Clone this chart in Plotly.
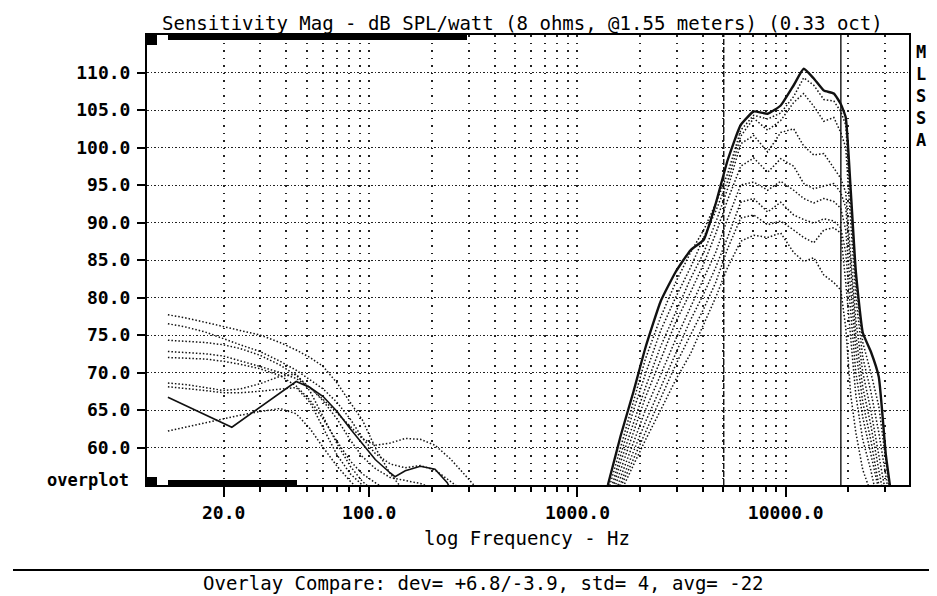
import plotly.graph_objects as go

# ---------------- data ----------------
low_freq = [10.8, 13.0, 16.3, 19.9, 24.0, 29.9, 37.3, 44.6, 52.0, 60.1, 70.1,
            81.1, 92.6, 106.9, 126.2, 149, 176, 207, 245, 289, 342]

low_solid_freq = [10.8, 21.9, 44.6, 52.0, 60.1, 70.1, 81.1, 92.6, 106.9, 126.2,
                  133, 149, 176, 207, 237, 250]
low_solid_db = [66.7, 62.7, 68.8, 68.0, 66.8, 64.8, 62.5, 60.5, 58.4, 56.6,
                56.1, 56.9, 57.5, 57.1, 55.3, 54.0]

N = None
low_dotted_1 = [77.7, 77.3, 76.7, 76.1, 75.6, 75.0, 74.0, 73.0, 72.0, 70.8, 68.6, 66.0, 63.7, 60.0, 56.5, 54.0, N, N, N, N, N]
low_dotted_2 = [76.5, 76.1, 75.4, 74.5, 73.7, 72.8, 71.5, 70.3, 69.0, 67.8, 66.0, 63.8, 61.3, 59.2, 57.8, 57.3, 57.6, 57.0, 55.5, 54.0, N]
low_dotted_3 = [74.3, 74.2, 74.0, 73.7, 73.2, 72.3, 71.0, 69.6, 68.0, 66.4, 64.6, 62.8, 61.2, 60.3, 60.6, 61.2, 61.1, 60.3, 58.5, 56.3, 54.0]
low_dotted_4 = [72.8, 72.7, 72.5, 72.2, 71.6, 70.8, 70.0, 69.2, 68.0, 66.2, 63.8, 61.0, 58.8, 57.2, 56.0, 55.6, 55.2, 54.5, N, N, N]
low_dotted_5 = [72.0, 71.9, 71.8, 71.5, 71.1, 70.5, 69.6, 68.2, 66.3, 63.8, 60.8, 58.2, 56.5, 55.3, 54.0, N, N, N, N, N, N]
low_dotted_6 = [68.6, 68.4, 68.0, 67.6, 67.8, 68.5, 69.5, 69.8, 67.5, 64.0, 60.5, 57.5, 55.5, 54.0, N, N, N, N, N, N, N]
low_dotted_7 = [68.1, 67.9, 67.6, 67.3, 67.3, 67.5, 67.8, 68.0, 66.0, 62.5, 59.0, 56.5, 55.0, 54.0, N, N, N, N, N, N, N]
low_dotted_8 = [62.2, 62.7, 63.3, 63.8, 64.3, 64.8, 65.2, 64.5, 62.5, 60.0, 57.5, 55.5, 54.0, N, N, N, N, N, N, N, N]

high_freq = [1400, 1610, 1860, 2120, 2510, 2960, 3490, 4040, 4610, 5260, 6080,
             7020, 8190, 9460, 10920, 12200, 13640, 15240, 17020, 18380, 19420,
             20520, 21710, 23450, 25620, 27990, 30260, 32000]

high_solid_db = [55.0, 61.5, 67.5, 73.3, 79.5, 83.4, 86.3, 87.7, 92.5, 98.3, 103.0,
                 104.8, 104.5, 105.6, 108.3, 110.5, 109.2, 107.6, 107.2, 105.8, 104.0,
                 94.3, 83.5, 75.3, 72.8, 69.4, 59.0, 54.0]
high_dotted_1 = [54.0, 60.0, 66.4, 71.8, 77.4, 82.0, 86.0, 89.0, 92.5, 96.5, 102.3, 104.3, 103.8, 104.6, 106.8, 109.3, 108.3, 106.4, 106.2, 104.8, 103.0, 93.0, 82.0, 74.0, 70.0, 65.5, 58.0, 53.0]
high_dotted_2 = [53.0, 59.0, 65.0, 69.8, 75.6, 80.0, 84.0, 88.0, 91.5, 95.5, 101.5, 103.9, 102.3, 103.6, 106.0, 107.2, 105.5, 103.5, 104.0, 102.0, 100.0, 90.0, 80.0, 72.0, 67.5, 62.0, 56.0, 52.0]
high_dotted_3 = [52.5, 58.0, 63.3, 68.0, 73.5, 78.0, 82.5, 86.0, 90.0, 94.5, 100.5, 101.6, 99.4, 102.0, 102.5, 100.2, 99.0, 99.2, 97.2, 95.9, 94.0, 86.0, 77.0, 70.0, 65.0, 59.0, 54.0, 50.0]
high_dotted_4 = [52.0, 57.0, 62.0, 66.7, 71.7, 76.7, 80.7, 84.5, 88.5, 93.0, 97.5, 98.6, 96.7, 98.5, 97.5, 95.2, 94.5, 94.8, 95.2, 94.0, 92.0, 84.0, 75.0, 68.0, 63.0, 57.0, 52.0, 50.0]
high_dotted_5 = [51.0, 56.0, 60.7, 65.0, 69.7, 74.4, 78.7, 82.5, 86.0, 90.5, 95.0, 95.4, 94.3, 95.5, 94.3, 93.2, 92.6, 93.2, 92.8, 91.9, 89.0, 81.0, 73.0, 66.0, 61.0, 55.0, 51.0, 50.0]
high_dotted_6 = [51.0, 55.3, 59.5, 63.4, 68.0, 72.6, 77.0, 80.5, 84.0, 88.0, 92.7, 93.2, 91.4, 92.7, 91.0, 90.4, 89.9, 90.5, 90.2, 89.3, 86.0, 78.0, 70.0, 64.0, 59.0, 54.0, 50.0, 50.0]
high_dotted_7 = [50.0, 54.7, 58.5, 62.0, 66.5, 71.0, 75.0, 78.5, 82.0, 86.5, 90.6, 91.0, 89.7, 90.2, 89.0, 88.0, 87.3, 89.0, 89.3, 88.6, 82.0, 74.0, 67.0, 61.0, 57.0, 52.0, 50.0, 50.0]
high_dotted_8 = [50.0, 54.0, 57.7, 61.0, 65.0, 69.0, 72.5, 76.5, 80.0, 84.0, 87.5, 88.3, 88.0, 88.6, 86.0, 84.8, 85.3, 83.0, 82.0, 81.0, 76.0, 67.0, 62.0, 57.0, 54.0, 50.0, 50.0, 50.0]

cursor_freqs = [5040, 18400]
cursor_dash = ["6px,2px", "solid"]

y_tick_vals = [60, 65, 70, 75, 80, 85, 90, 95, 100, 105, 110]
y_tick_text = ["60.0", "65.0", "70.0", "75.0", "80.0", "85.0", "90.0", "95.0", "100.0", "105.0", "110.0"]
x_tick_vals = [20, 100, 1000, 10000]
x_tick_text = ["20.0", "100.0", "1000.0", "10000.0"]
x_minor_vals = [30, 40, 50, 60, 70, 80, 90,
                200, 300, 400, 500, 600, 700, 800, 900,
                2000, 3000, 4000, 5000, 6000, 7000, 8000, 9000,
                20000, 30000]

title_text = "Sensitivity Mag - dB SPL/watt (8 ohms, @1.55 meters) (0.33 oct)"
x_title = "log Frequency - Hz"
footer_text = "Overlay Compare: dev= +6.8/-3.9, std= 4, avg= -22"

# ---------------- figure ----------------
FONT = "DejaVu Sans Mono"
INK = "#111111"
DOT = "1.5px,2px"
fig = go.Figure()

for ys in [low_dotted_1, low_dotted_2, low_dotted_3, low_dotted_4,
           low_dotted_5, low_dotted_6, low_dotted_7, low_dotted_8]:
    fig.add_trace(go.Scatter(x=low_freq, y=ys, mode="lines", connectgaps=False,
                             line=dict(color=INK, width=1.5, dash=DOT),
                             hoverinfo="skip"))
fig.add_trace(go.Scatter(x=low_solid_freq, y=low_solid_db, mode="lines",
                         line=dict(color=INK, width=1.6), hoverinfo="skip"))

for ys in [high_dotted_1, high_dotted_2, high_dotted_3, high_dotted_4,
           high_dotted_5, high_dotted_6, high_dotted_7, high_dotted_8]:
    fig.add_trace(go.Scatter(x=high_freq, y=ys, mode="lines",
                             line=dict(color=INK, width=1.5, dash=DOT),
                             hoverinfo="skip"))
fig.add_trace(go.Scatter(x=high_freq, y=high_solid_db, mode="lines",
                         line=dict(color=INK, width=2.4, shape="spline", smoothing=0.4),
                         hoverinfo="skip"))

for f, d in zip(cursor_freqs, cursor_dash):
    fig.add_trace(go.Scatter(x=[f, f], y=[55, 115], mode="lines",
                             line=dict(color=INK, width=1.4, dash=d),
                             hoverinfo="skip"))

axis_font = dict(family=FONT, size=18, color="black", weight="bold")

fig.update_xaxes(
    type="log", range=[0.933, 4.592],
    tickmode="array", tickvals=x_tick_vals, ticktext=x_tick_text,
    ticks="outside", ticklen=10, tickwidth=1.5, tickcolor="black",
    tickfont=axis_font,
    showgrid=True, gridcolor="#222", griddash="1.5px,6px", gridwidth=1.5,
    showline=True, linecolor="black", linewidth=2, mirror=True,
    zeroline=False,
    minor=dict(tickmode="array", tickvals=x_minor_vals, ticks="outside",
               ticklen=5, tickwidth=1.5, tickcolor="black",
               showgrid=True, gridcolor="#222", griddash="1.5px,6px", gridwidth=1.5),
)
fig.update_yaxes(
    range=[55, 115],
    tickmode="array", tickvals=y_tick_vals, ticktext=y_tick_text,
    ticks="outside", ticklen=8, tickwidth=1.5, tickcolor="black",
    tickfont=axis_font, ticklabelstandoff=3,
    showgrid=True, gridcolor="#222", griddash="1.5px,2px", gridwidth=1.2,
    showline=True, linecolor="black", linewidth=2, mirror=True,
    zeroline=False,
)

# The page body adds an 8px margin; the figure is shifted/sized so the plot
# lands where the reference has it.
OFF = 8
W, H = 937 - OFF, 596 - OFF
L, T = 147 - OFF, 35 - OFF
PW, PH = 762, 450
R, B = W - L - PW, H - T - PH


def px(xp):
    return (xp - OFF - L) / PW


def py(yp):
    return (T + PH - (yp - OFF)) / PH


shapes = [
    dict(type="rect", xref="paper", yref="paper", x0=px(147), x1=px(157), y0=py(45), y1=py(35),
         fillcolor="black", line=dict(width=0)),
    dict(type="rect", xref="paper", yref="paper", x0=px(168), x1=px(467), y0=py(40), y1=py(35),
         fillcolor="black", line=dict(width=0)),
    dict(type="rect", xref="paper", yref="paper", x0=px(147), x1=px(157), y0=py(485), y1=py(477),
         fillcolor="black", line=dict(width=0)),
    dict(type="rect", xref="paper", yref="paper", x0=px(168), x1=px(297), y0=py(485), y1=py(480),
         fillcolor="black", line=dict(width=0)),
    dict(type="line", xref="paper", yref="paper", x0=px(13), x1=px(937), y0=py(570), y1=py(570),
         line=dict(color="black", width=2)),
]

annotations = [
    dict(text=title_text, xref="paper", yref="paper", x=px(522), y=py(23),
         xanchor="center", yanchor="middle", showarrow=False,
         font=dict(family=FONT, size=19, color="black")),
    dict(text=x_title, xref="paper", yref="paper", x=px(527), y=py(538),
         xanchor="center", yanchor="middle", showarrow=False,
         font=dict(family=FONT, size=19, color="black")),
    dict(text=footer_text, xref="paper", yref="paper", x=px(483), y=py(583),
         xanchor="center", yanchor="middle", showarrow=False,
         font=dict(family=FONT, size=19, color="black")),
    dict(text="overplot", xref="paper", yref="paper", x=px(131), y=py(480),
         xanchor="right", yanchor="middle", showarrow=False,
         font=dict(family=FONT, size=17, color="black", weight="bold")),
    dict(text="M<br>L<br>S<br>S<br>A", xref="paper", yref="paper", x=px(921), y=py(40),
         xanchor="center", yanchor="top", showarrow=False, align="center",
         font=dict(family=FONT, size=17, color="black", weight="bold")),
]

fig.update_layout(
    width=W, height=H,
    margin=dict(l=L, r=R, t=T, b=B),
    plot_bgcolor="white", paper_bgcolor="white",
    showlegend=False,
    shapes=shapes, annotations=annotations,
)

fig.write_html("out.html")
